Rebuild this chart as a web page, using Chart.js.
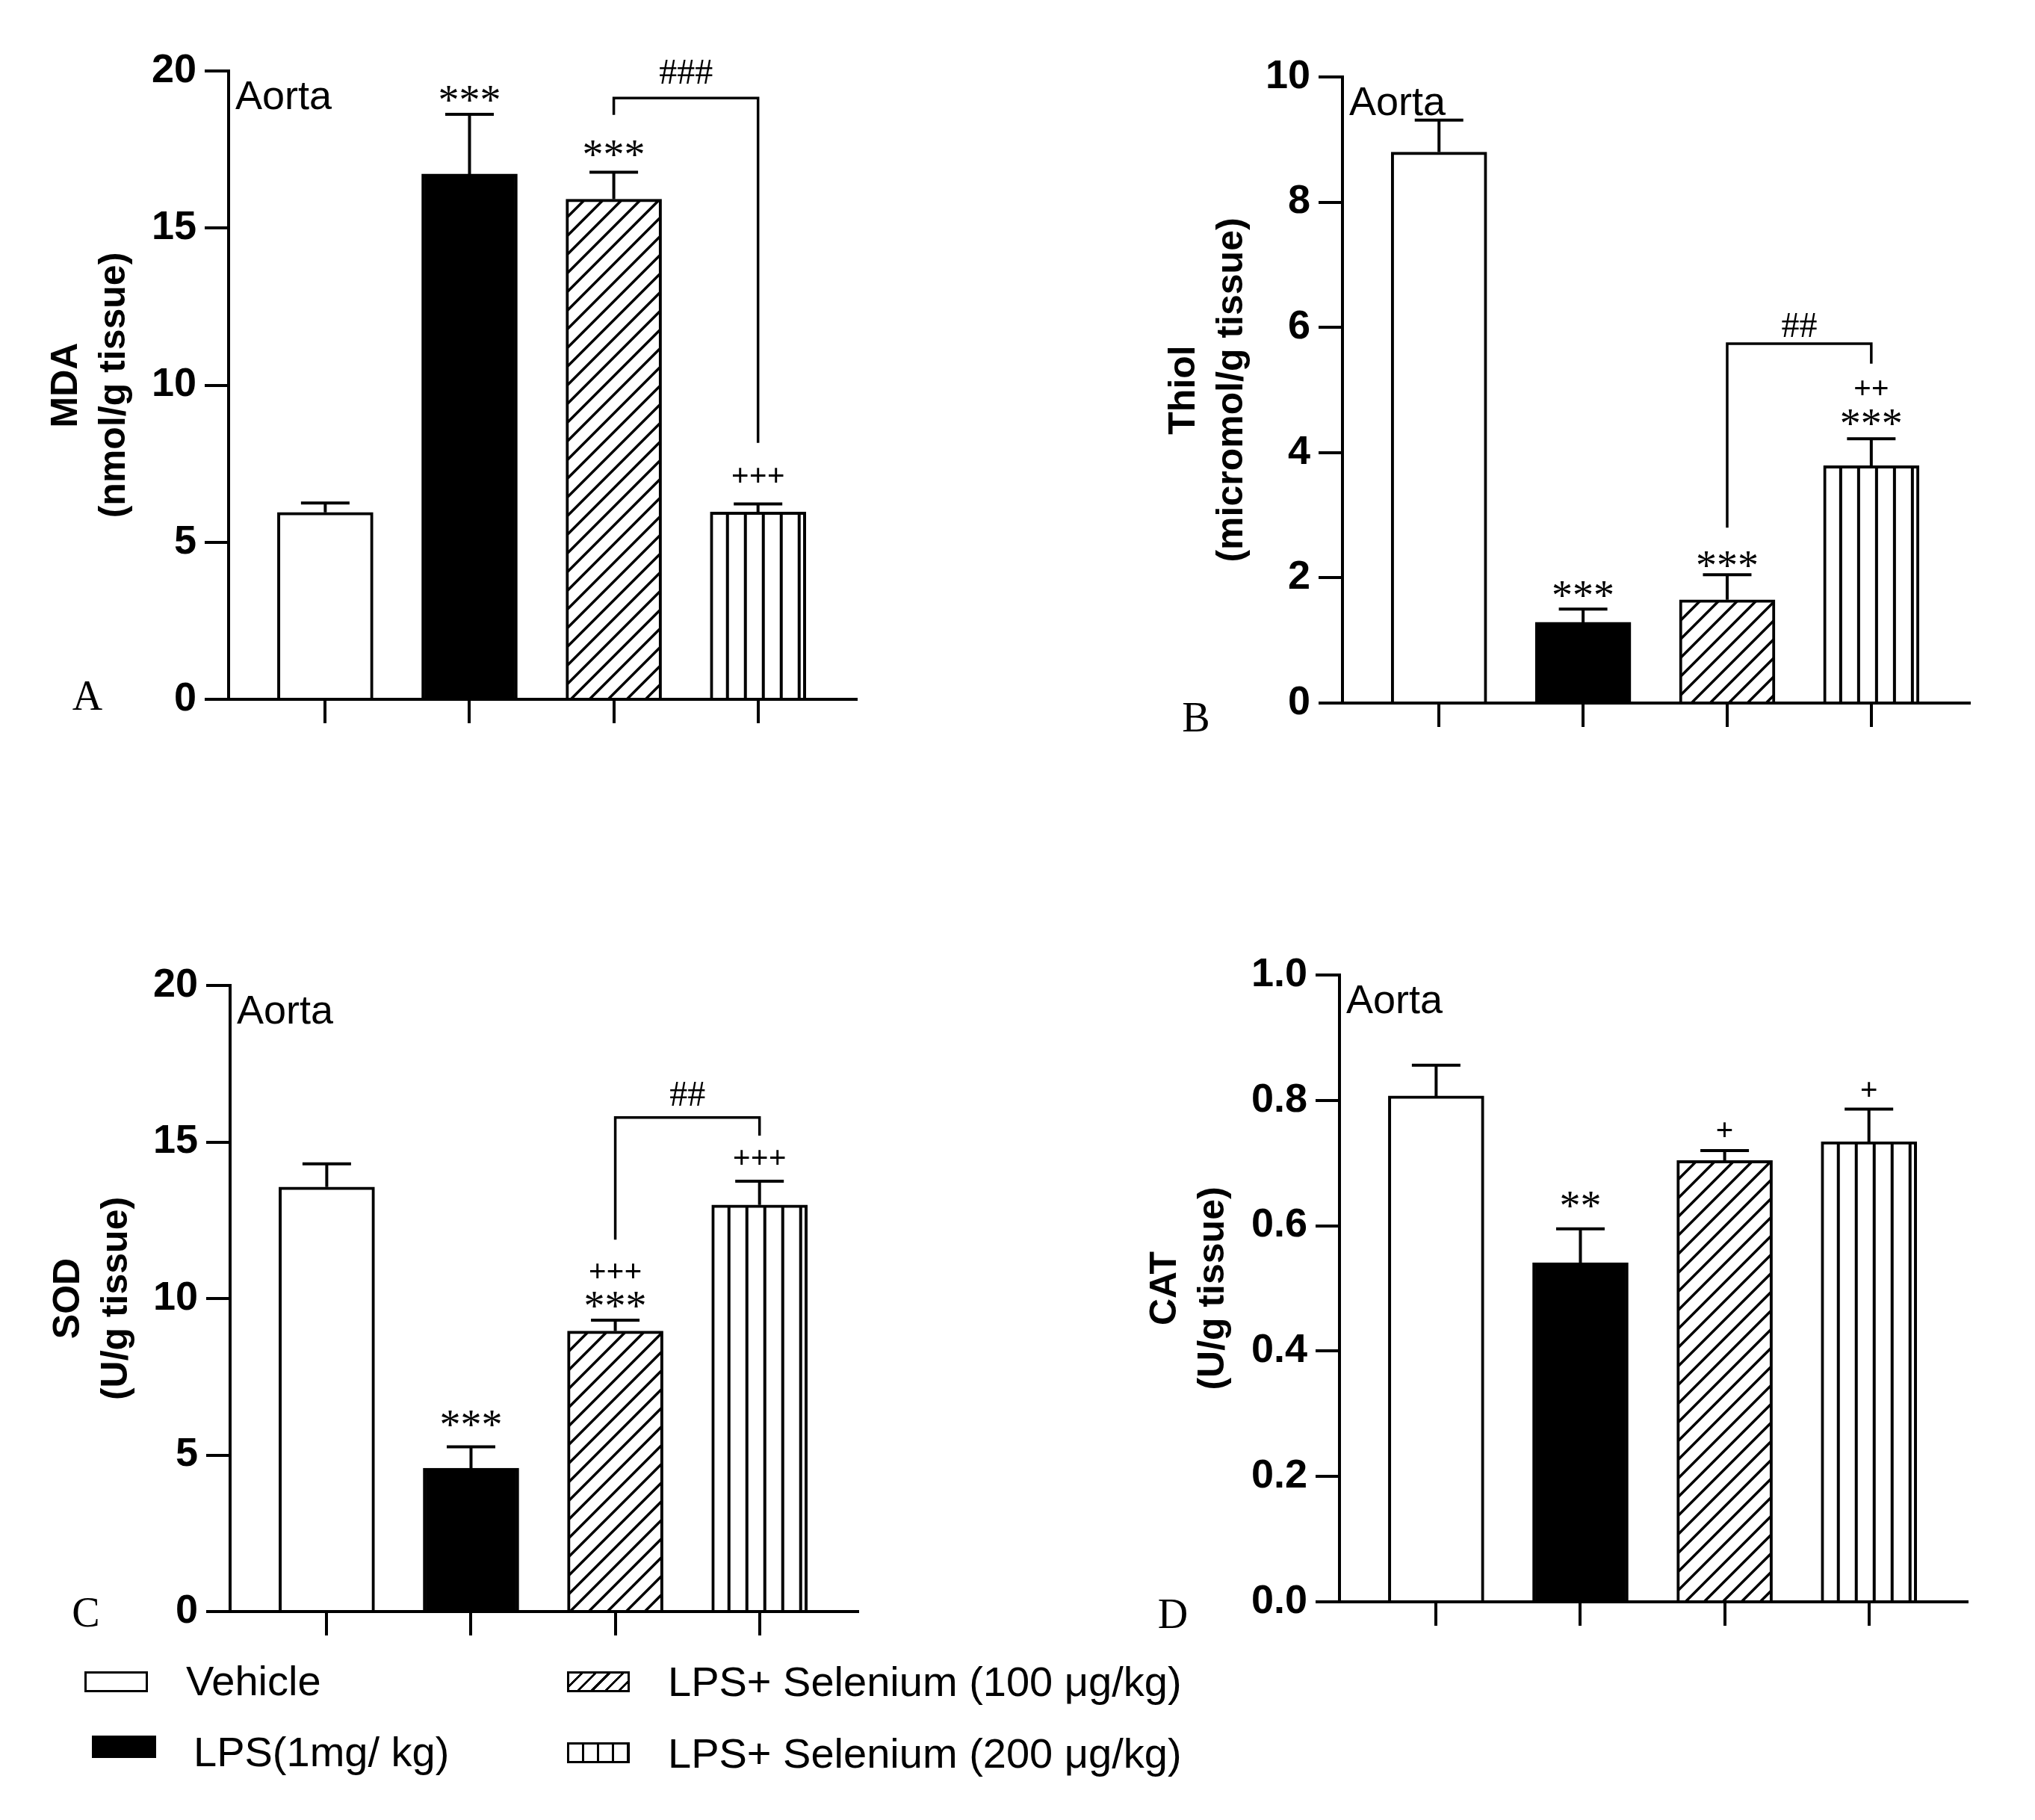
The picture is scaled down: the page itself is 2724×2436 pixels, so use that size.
<!DOCTYPE html>
<html>
<head>
<meta charset="utf-8">
<script src="https://cdn.jsdelivr.net/npm/chart.js@4.4.1/dist/chart.umd.min.js"></script>
<style>
  html, body { margin: 0; padding: 0; background: #fff; }
  body { width: 2724px; height: 2436px; position: relative; overflow: hidden; }
  canvas { position: absolute; }
  .letter { position: absolute; font: 56px "Liberation Serif", "Times New Roman", serif; line-height: 1; transform: translate(-50%, -50%); }
  .key { position: absolute; box-sizing: border-box; }
  .ktext { position: absolute; font: 56px "Liberation Sans", Arial, sans-serif; line-height: 1; transform: translateY(-50%); white-space: nowrap; }
</style>
</head>
<body>
<canvas id="chartA" width="1250" height="1010" style="left:0;top:0"></canvas>
<canvas id="chartB" width="1244" height="1010" style="left:1480px;top:0"></canvas>
<canvas id="chartC" width="1250" height="1010" style="left:0;top:1220px"></canvas>
<canvas id="chartD" width="1244" height="1000" style="left:1480px;top:1220px"></canvas>

<div class="letter" style="left:117px;top:931px">A</div>
<div class="letter" style="left:1601px;top:960px">B</div>
<div class="letter" style="left:115px;top:2158px">C</div>
<div class="letter" style="left:1570px;top:2160px">D</div>

<div class="key" style="left:113px;top:2237px;width:85px;height:28px;border:3.5px solid #000;background:#fff"></div>
<div class="key" style="left:123px;top:2323px;width:86px;height:30px;background:#000"></div>
<div class="key" style="left:759px;top:2237px;width:84px;height:28px;border:3px solid #000;background:repeating-linear-gradient(135deg,#fff 0 10px,#000 10px 13px)"></div>
<div class="key" style="left:759px;top:2332px;width:84px;height:28px;border:3px solid #000;background:repeating-linear-gradient(90deg,#fff 0 17px,#000 17px 20px)"></div>
<div class="ktext" id="k0" style="left:249px;top:2250px"></div>
<div class="ktext" id="k1" style="left:259px;top:2345px"></div>
<div class="ktext" id="k2" style="left:894px;top:2251px"></div>
<div class="ktext" id="k3" style="left:894px;top:2347px"></div>

<script>
const groups = ['Vehicle', 'LPS(1mg/ kg)', 'LPS+ Selenium (100 μg/kg)', 'LPS+ Selenium (200 μg/kg)'];
const regionLabel = 'Aorta';

const mdaMean = [5.95, 16.72, 15.92, 5.96];
const mdaSem = [0.30, 1.90, 0.86, 0.26];
const thiolMean = [8.80, 1.29, 1.65, 3.79];
const thiolSem = [0.51, 0.21, 0.40, 0.43];
const sodMean = [13.56, 4.58, 8.96, 12.99];
const sodSem = [0.74, 0.68, 0.35, 0.76];
const catMean = [0.807, 0.541, 0.704, 0.734];
const catSem = [0.049, 0.054, 0.016, 0.052];

// significance marks: [bar index, y value, text]
const mdaMarks = [[1, 19.24, '***'], [2, 17.5, '***'], [3, 7.06, '+++']];
const thiolMarks = [[1, 1.8, '***'], [2, 2.28, '***'], [3, 4.55, '***'], [3, 5.0, '++']];
const sodMarks = [[1, 6.13, '***'], [2, 9.94, '***'], [2, 10.8, '+++'], [3, 14.42, '+++']];
const catMarks = [[1, 0.64, '**'], [2, 0.749, '+'], [3, 0.813, '+']];

// brackets: [from bar, to bar, top y, left end y, right end y, text, text y]
const mdaBracket = [2, 3, 19.14, 18.6, 8.16, '###', 19.98];
const thiolBracket = [2, 3, 5.74, 2.8, 5.42, '##', 6.04];
const sodBracket = [2, 3, 15.78, 11.88, 15.2, '##', 16.54];

groups.forEach((g, i) => { document.getElementById('k' + i).textContent = g; });

const SANS = '"Liberation Sans", Arial, sans-serif';
const SERIF = '"Liberation Serif", "Times New Roman", serif';
const glyph = {
  '*': { font: '56px ', mid: 0.47, size: 56 },
  '+': { font: 'bold 42px ', mid: 0.25, size: 42 },
  '#': { font: '48px ', mid: 0.34, size: 48 }
};

function drawMark(ctx, t, px, py) {
  const g = glyph[t[0]];
  ctx.font = g.font + SERIF;
  ctx.textAlign = 'center';
  ctx.textBaseline = 'alphabetic';
  ctx.fillText(t, px, py + g.mid * g.size);
}

function hatchPattern(ctx) {
  const c = document.createElement('canvas');
  c.width = c.height = 25;
  const g = c.getContext('2d');
  g.fillStyle = '#fff';
  g.fillRect(0, 0, 25, 25);
  g.strokeStyle = '#000';
  g.lineWidth = 3.5;
  g.beginPath();
  g.moveTo(-5, 30); g.lineTo(30, -5);
  g.moveTo(-5, 5); g.lineTo(5, -5);
  g.moveTo(20, 30); g.lineTo(30, 20);
  g.stroke();
  return ctx.createPattern(c, 'repeat');
}

function stripePattern(ctx) {
  const c = document.createElement('canvas');
  c.width = 24; c.height = 4;
  const g = c.getContext('2d');
  g.fillStyle = '#fff';
  g.fillRect(0, 0, 24, 4);
  g.fillStyle = '#000';
  g.fillRect(0, 0, 4, 4);
  return ctx.createPattern(c, 'repeat');
}

function makePanel(id, o) {
  const canvas = document.getElementById(id);
  const ctx0 = canvas.getContext('2d');
  const hatch = hatchPattern(ctx0);
  const stripes = stripePattern(ctx0);

  const deco = {
    id: 'deco',
    beforeDatasetsDraw(chart) {
      const bar = chart.getDatasetMeta(0).data[3];
      stripes.setTransform(new DOMMatrix([1, 0, 0, 1, bar.x - bar.width / 2 + 21, 0]));
    },
    afterDatasetsDraw(chart) {
      const ctx = chart.ctx, xs = chart.scales.x, ys = chart.scales.y, area = chart.chartArea;
      ctx.save();
      ctx.strokeStyle = '#000';
      ctx.fillStyle = '#000';
      ctx.lineWidth = 4;
      ctx.lineCap = 'butt';
      ctx.lineJoin = 'miter';
      o.mean.forEach((m, i) => {
        const px = xs.getPixelForValue(i);
        const y0 = ys.getPixelForValue(m);
        const y1 = ys.getPixelForValue(m + o.sem[i]);
        ctx.beginPath();
        ctx.moveTo(px, y0); ctx.lineTo(px, y1);
        ctx.moveTo(px - 32.5, y1); ctx.lineTo(px + 32.5, y1);
        ctx.stroke();
      });
      if (o.bracket) {
        const [a, b, top, la, lb, label, ly] = o.bracket;
        const xa = xs.getPixelForValue(a), xb = xs.getPixelForValue(b), yt = ys.getPixelForValue(top);
        ctx.lineWidth = 3.5;
        ctx.beginPath();
        ctx.moveTo(xa, ys.getPixelForValue(la));
        ctx.lineTo(xa, yt);
        ctx.lineTo(xb, yt);
        ctx.lineTo(xb, ys.getPixelForValue(lb));
        ctx.stroke();
        drawMark(ctx, label, (xa + xb) / 2, ys.getPixelForValue(ly));
      }
      o.marks.forEach(([i, v, t]) => drawMark(ctx, t, xs.getPixelForValue(i), ys.getPixelForValue(v)));
      ctx.font = '54px ' + SANS;
      ctx.textAlign = 'left';
      ctx.textBaseline = 'alphabetic';
      ctx.fillText(regionLabel, area.left + 9, area.top + 51);
      ctx.restore();
    }
  };

  new Chart(canvas, {
    type: 'bar',
    data: {
      datasets: [{
        data: o.mean.map((v, i) => ({ x: i, y: v })),
        backgroundColor: ['#fff', '#000', hatch, stripes],
        borderColor: '#000',
        borderWidth: 4,
        barThickness: 128
      }]
    },
    options: {
      responsive: false,
      animation: false,
      devicePixelRatio: 1,
      layout: { autoPadding: false, padding: { top: o.padTop, right: o.padRight, bottom: 0, left: 0 } },
      plugins: { legend: { display: false }, tooltip: { enabled: false } },
      scales: {
        x: {
          type: 'linear',
          min: -0.67,
          max: 3.68,
          offset: false,
          afterBuildTicks: s => { s.ticks = [0, 1, 2, 3].map(v => ({ value: v })); },
          afterFit: s => { s.height = o.xHeight; },
          ticks: { display: false },
          grid: { offset: false, drawOnChartArea: false, drawTicks: true, tickLength: 32, lineWidth: 4, color: '#000' },
          border: { display: true, width: 4, color: '#000' }
        },
        y: {
          min: 0,
          max: o.max,
          afterBuildTicks: s => { s.ticks = o.ticks.map(v => ({ value: v })); },
          afterFit: s => { s.width = o.yWidth; },
          ticks: {
            color: '#000',
            padding: 11,
            font: { family: SANS, size: 54, weight: 'bold' },
            callback: v => o.decimals ? v.toFixed(o.decimals) : String(v)
          },
          grid: { drawOnChartArea: false, drawTicks: true, tickLength: 32, lineWidth: 4, color: '#000' },
          border: { display: true, width: 4, color: '#000' },
          title: {
            display: true,
            text: o.title,
            color: '#000',
            font: { family: SANS, size: 50, weight: 'bold', lineHeight: 1.28 },
            padding: { top: o.titlePad, bottom: 0 }
          }
        }
      }
    },
    plugins: [deco]
  });
}

makePanel('chartA', {
  mean: mdaMean, sem: mdaSem, marks: mdaMarks, bracket: mdaBracket,
  max: 20, ticks: [0, 5, 10, 15, 20], decimals: 0,
  title: ['MDA', '(nmol/g tissue)'],
  yWidth: 306, padTop: 95, padRight: 104, xHeight: 74, titlePad: 57
});
makePanel('chartB', {
  mean: thiolMean, sem: thiolSem, marks: thiolMarks, bracket: thiolBracket,
  max: 10, ticks: [0, 2, 4, 6, 8, 10], decimals: 0,
  title: ['Thiol', '(micromol/g tissue)'],
  yWidth: 317, padTop: 103, padRight: 88, xHeight: 69, titlePad: 73
});
makePanel('chartC', {
  mean: sodMean, sem: sodSem, marks: sodMarks, bracket: sodBracket,
  max: 20, ticks: [0, 5, 10, 15, 20], decimals: 0,
  title: ['SOD', '(U/g tissue)'],
  yWidth: 308, padTop: 99, padRight: 102, xHeight: 73, titlePad: 60
});
makePanel('chartD', {
  mean: catMean, sem: catSem, marks: catMarks, bracket: null,
  max: 1, ticks: [0, 0.2, 0.4, 0.6, 0.8, 1.0], decimals: 1,
  title: ['CAT', '(U/g tissue)'],
  yWidth: 313, padTop: 85, padRight: 91, xHeight: 76, titlePad: 48
});
</script>
</body>
</html>
